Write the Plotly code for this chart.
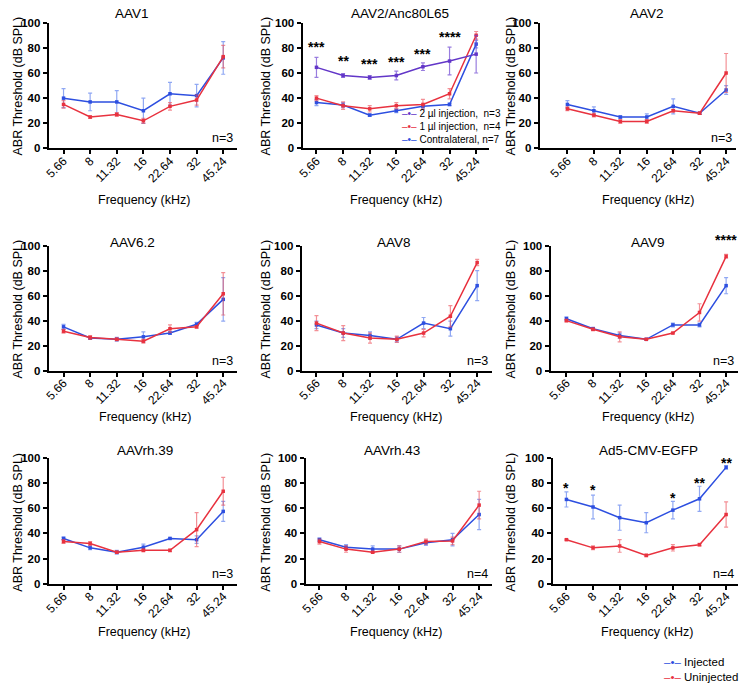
import plotly.graph_objects as go

# ---------------- data ----------------
freqs = ["5.66", "8", "11.32", "16", "22.64", "32", "45.24"]
y_ticks = [0, 20, 40, 60, 80, 100]

panel_titles = ["AAV1", "AAV2/Anc80L65", "AAV2", "AAV6.2", "AAV8", "AAV9",
                "AAVrh.39", "AAVrh.43", "Ad5-CMV-EGFP"]
n_labels = ["n=3", "", "n=3", "n=3", "n=3", "n=3", "n=3", "n=4", "n=4"]

aav1_inj = [40, 37, 37, 30, 43.5, 42, 72]
aav1_inj_err = [7.5, 7, 9, 10, 9, 9, 13]
aav1_uninj = [35, 25, 27, 22, 33.5, 38.5, 73]
aav1_uninj_err = [3, 1, 1.5, 2, 3, 4, 9]

anc_2ul = [64.5, 58, 56.5, 58, 65, 69.5, 75]
anc_2ul_err = [8, 1.5, 1.5, 3.5, 3, 11, 15]
anc_1ul = [40, 34, 31.5, 34, 35, 43.5, 90]
anc_1ul_err = [2, 3, 2.5, 2.5, 4, 4, 3]
anc_contra = [36.5, 34.5, 26.5, 30, 33.5, 35, 83]
anc_contra_err = [2.5, 2, 1, 1.5, 1.5, 1, 3]
anc_sig = ["***", "**", "***", "***", "***", "****", ""]
anc_sig_y = [78, 67, 65, 66, 73, 86, None]

aav2_inj = [35, 30, 25, 25, 33.5, 28, 46.5]
aav2_inj_err = [3, 3, 1, 2.5, 6, 1, 3.5]
aav2_uninj = [31.5, 26.5, 21.5, 21.5, 30, 28, 60]
aav2_uninj_err = [1.5, 1.5, 1.5, 1.5, 1, 1, 15.5]

aav62_inj = [35, 26, 25, 27, 30, 37, 57]
aav62_inj_err = [2, 1, 1.5, 4, 1, 1.5, 17.5]
aav62_uninj = [31.5, 26.5, 25, 23.5, 33.5, 35, 61.5]
aav62_uninj_err = [1.5, 1.5, 1, 1.5, 3, 1, 17]

aav8_inj = [36.5, 30, 28, 25, 38, 33.5, 68]
aav8_inj_err = [3, 3.5, 3, 2, 4.5, 6, 12]
aav8_uninj = [38, 30, 26, 25, 30, 43.5, 86.5]
aav8_uninj_err = [6, 6, 4, 2.5, 3, 8.5, 2.5]

aav9_inj = [41.5, 33.5, 28, 25, 36.5, 36.5, 68]
aav9_inj_err = [1.5, 1, 2, 0.5, 1.5, 1.5, 6.5]
aav9_uninj = [40, 33, 27, 25, 30, 46.5, 91.5]
aav9_uninj_err = [1, 1, 4, 0.5, 0.5, 7, 1.5]
aav9_sig = ["", "", "", "", "", "", "****"]
aav9_sig_y = [None, None, None, None, None, None, 101.8]

rh39_inj = [36, 28.5, 25, 29, 36, 35, 57.5]
rh39_inj_err = [1, 1.5, 1.5, 2.5, 0.5, 3, 8]
rh39_uninj = [33.5, 32, 25, 26.5, 26.5, 43, 73.5]
rh39_uninj_err = [1.5, 1.5, 1, 1, 1, 13.5, 11]

rh43_inj = [35, 29, 27.5, 27.5, 32.5, 35, 55]
rh43_inj_err = [1.5, 2, 2.5, 2.5, 2, 5, 12]
rh43_uninj = [33.5, 27.5, 25, 27.5, 33.5, 34, 62.5]
rh43_uninj_err = [2, 2.5, 0.5, 2.5, 2, 3, 11]

ad5_inj = [67, 61, 52.5, 48.5, 58.5, 67.5, 92.5]
ad5_inj_err = [6, 9.5, 10, 8, 7, 10, 1.5]
ad5_uninj = [35, 28.5, 30, 22.5, 28.5, 31, 55]
ad5_uninj_err = [0.5, 1.5, 5, 1, 2.5, 1, 10]
ad5_sig = ["*", "*", "", "", "*", "**", "**"]
ad5_sig_y = [77.3, 75.8, None, None, 70, 81.3, 97.9]

anc_legend = ["2 µl injection,  n=3", "1 µl injection,  n=4", "Contralateral, n=7"]
main_legend = ["Injected", "Uninjected"]

# ---------------- style ----------------
W, H = 741, 685
FONT = "Liberation Sans, Arial, Helvetica, sans-serif"
BLUE = "#2D4FE0"
RED = "#E8323F"
PURPLE = "#6236C8"
BLUE_E = "rgba(70,110,235,0.6)"
RED_E = "rgba(235,70,80,0.6)"
PURPLE_E = "rgba(110,70,210,0.7)"

# per panel: axis-left px, first category px, last category px, axis-right px
geom = [
    (43, 58, 219, 233), (299, 313, 474, 487), (538, 566, 726, 736),
    (43, 58, 219, 233), (298, 313, 475, 490), (549, 565, 726, 738),
    (43, 58, 219, 233), (302, 316, 477, 490), (551, 565, 726, 738),
]
rows_px = [(145, 17), (371, 244), (588, 460)]  # (y of 0, y of 100)
title_pos = [(127, 8), (397, 8), (646, 8), (128, 241), (391, 241), (647, 241),
             (140, 452), (389, 452), (648, 452)]
xtitle_pos = [(139, 197), (393, 197), (647, 197), (140, 418), (393, 418),
              (647, 418), (139, 637), (393, 637), (646, 637)]
ytitle_x = [12, 262, 509]
ytitle_y = [81, 308, 525]

panels = [
    [(aav1_inj, aav1_inj_err, BLUE, BLUE_E), (aav1_uninj, aav1_uninj_err, RED, RED_E)],
    [(anc_contra, anc_contra_err, BLUE, BLUE_E), (anc_1ul, anc_1ul_err, RED, RED_E),
     (anc_2ul, anc_2ul_err, PURPLE, PURPLE_E)],
    [(aav2_inj, aav2_inj_err, BLUE, BLUE_E), (aav2_uninj, aav2_uninj_err, RED, RED_E)],
    [(aav62_inj, aav62_inj_err, BLUE, BLUE_E), (aav62_uninj, aav62_uninj_err, RED, RED_E)],
    [(aav8_inj, aav8_inj_err, BLUE, BLUE_E), (aav8_uninj, aav8_uninj_err, RED, RED_E)],
    [(aav9_inj, aav9_inj_err, BLUE, BLUE_E), (aav9_uninj, aav9_uninj_err, RED, RED_E)],
    [(rh39_inj, rh39_inj_err, BLUE, BLUE_E), (rh39_uninj, rh39_uninj_err, RED, RED_E)],
    [(rh43_inj, rh43_inj_err, BLUE, BLUE_E), (rh43_uninj, rh43_uninj_err, RED, RED_E)],
    [(ad5_uninj, ad5_uninj_err, RED, RED_E), (ad5_inj, ad5_inj_err, BLUE, BLUE_E)],
]
sigs = {1: (anc_sig, anc_sig_y), 5: (aav9_sig, aav9_sig_y), 8: (ad5_sig, ad5_sig_y)}

fig = go.Figure()
annotations = []

for i in range(9):
    ax = "" if i == 0 else str(i + 1)
    r = i // 3
    L, c0, c6, R = geom[i]
    s = (c6 - c0) / (len(freqs) - 1)
    xr = [-(c0 - L) / s, len(freqs) - 1 + (R - c6) / s]
    y0, y100 = rows_px[r]
    px_per_unit = (y0 - y100) / 100
    xd = [L / W, R / W]
    yd = [1 - y0 / H, 1 - y100 / H]

    for vals, errs, col, ecol in panels[i]:
        fig.add_trace(go.Scatter(
            x=freqs, y=vals, mode="lines+markers",
            line=dict(color=col, width=1.5),
            marker=dict(symbol="square", size=3.5, color=col),
            error_y=dict(type="data", array=errs, color=ecol, thickness=1.2, width=2),
            xaxis="x" + ax, yaxis="y" + ax, showlegend=False, cliponaxis=False,
        ))

    fig.update_layout(**{
        "xaxis" + ax: dict(
            domain=xd, anchor="y" + ax, type="category", categoryorder="array",
            categoryarray=freqs, range=xr, showline=True, linewidth=2,
            linecolor="black", ticks="outside", ticklen=4, tickwidth=1.5,
            tickcolor="black", tickangle=-45, showgrid=False, zeroline=False,
            ticklabelstandoff=-5,
            tickfont=dict(family=FONT, size=12, color="black"),
        ),
        "yaxis" + ax: dict(
            domain=yd, anchor="x" + ax, range=[0, 100], tickvals=y_ticks,
            showline=True, linewidth=2, linecolor="black", ticks="outside",
            ticklen=4, tickwidth=1.5, tickcolor="black", showgrid=False,
            zeroline=False,
            tickfont=dict(family=FONT, size=11.5, color="black", weight="bold"),
        ),
    })

    tx, ty = title_pos[i]
    annotations.append(dict(text=panel_titles[i], x=tx / W, y=1 - ty / H,
                             xref="paper", yref="paper", showarrow=False,
                             xanchor="center", yanchor="middle",
                             font=dict(family=FONT, size=13.5, color="black")))
    fx, fy = xtitle_pos[i]
    annotations.append(dict(text="Frequency (kHz)", x=fx / W, y=1 - fy / H,
                            xref="paper", yref="paper", showarrow=False,
                            xanchor="center", yanchor="middle",
                            font=dict(family=FONT, size=12.5, color="black")))
    annotations.append(dict(text="ABR Threshold (dB SPL)", x=ytitle_x[i % 3] / W,
                            y=1 - ytitle_y[r] / H, xref="paper", yref="paper",
                            showarrow=False, textangle=-90, xanchor="center",
                            yanchor="middle",
                            font=dict(family=FONT, size=12.5, color="black")))
    if n_labels[i]:
        annotations.append(dict(text=n_labels[i], x=1, y=8, xref="x" + ax + " domain",
                                yref="y" + ax, xanchor="right", yanchor="middle",
                                xshift=-2, showarrow=False,
                                font=dict(family=FONT, size=12.5, color="black")))
    if i in sigs:
        labels, ys = sigs[i]
        base_shift = -2 if i == 8 else 3
        for j, (lab, yv) in enumerate(zip(labels, ys)):
            if lab:
                # annotations outside the axis range are hidden, so clamp to the
                # top of the axis and express the remainder as a pixel shift
                yc = min(yv, 100)
                annotations.append(dict(text=lab, x=j, y=yc, xref="x" + ax,
                                        yref="y" + ax, showarrow=False,
                                        xanchor="center", yanchor="middle",
                                        yshift=base_shift + (yv - yc) * px_per_unit,
                                        font=dict(family=FONT, size=14,
                                                  color="black", weight="bold")))

# legend for AAV2/Anc80L65 panel (one block, three lines)
anc_lines = [f"<span style='color:{c}'>–•–</span> {lab}"
             for lab, c in zip(anc_legend, [PURPLE, RED, BLUE])]
annotations.append(dict(
    text="<br>".join(anc_lines), x=397 / W, y=1 - 123 / H, align="left",
    xref="paper", yref="paper", showarrow=False, xanchor="left",
    yanchor="middle", font=dict(family=FONT, size=10, color="black")))

# global legend bottom right
main_lines = [f"<span style='color:{c}'>–•–</span> {lab}"
              for lab, c in zip(main_legend, [BLUE, RED])]
annotations.append(dict(
    text="<br>".join(main_lines), x=661 / W, y=1 - 675 / H, align="left",
    xref="paper", yref="paper", showarrow=False, xanchor="left",
    yanchor="middle", font=dict(family=FONT, size=11.5, color="black")))

fig.update_layout(
    autosize=True, margin=dict(l=0, r=0, t=0, b=0),
    paper_bgcolor="white", plot_bgcolor="white",
    annotations=annotations, showlegend=False,
    font=dict(family=FONT, color="black"),
)

fig.write_html(
    "out.html",
    config={"displayModeBar": False, "responsive": True},
    default_width="100vw",
    default_height="100vh",
    post_script=("document.documentElement.style.margin='0';"
                 "document.documentElement.style.overflow='hidden';"
                 "document.body.style.margin='0';"
                 "document.body.style.overflow='hidden';"),
)
